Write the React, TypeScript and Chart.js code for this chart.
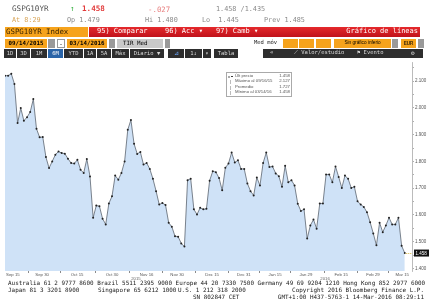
import React, { useEffect, useRef } from 'react';
import { Chart, registerables } from 'chart.js';
Chart.register(...registerables);

// ---- data (daily closes, 09/14/2015 -> 03/14/2016) ----
const values = [
  2.120, 2.120, 2.127, 2.089, 1.943, 1.999, 1.952, 1.965, 1.984, 2.033,
  1.922, 1.890, 1.891, 1.816, 1.775, 1.800, 1.825, 1.837, 1.831, 1.829,
  1.810, 1.794, 1.792, 1.806, 1.769, 1.757, 1.809, 1.744, 1.590, 1.635,
  1.633, 1.586, 1.565, 1.643, 1.670, 1.747, 1.732, 1.757, 1.800, 1.918,
  1.955, 1.866, 1.828, 1.835, 1.788, 1.794, 1.772, 1.735, 1.689, 1.639,
  1.645, 1.637, 1.571, 1.556, 1.521, 1.519, 1.494, 1.482, 1.730, 1.735,
  1.621, 1.602, 1.627, 1.621, 1.623, 1.728, 1.763, 1.760, 1.738, 1.692,
  1.776, 1.792, 1.833, 1.796, 1.804, 1.772, 1.772, 1.718, 1.689, 1.673,
  1.740, 1.710, 1.794, 1.833, 1.779, 1.781, 1.755, 1.745, 1.705, 1.784,
  1.722, 1.730, 1.710, 1.642, 1.615, 1.621, 1.512, 1.561, 1.583, 1.549,
  1.643, 1.643, 1.751, 1.751, 1.722, 1.781, 1.742, 1.701, 1.747, 1.735,
  1.701, 1.705, 1.651, 1.639, 1.630, 1.610, 1.573, 1.531, 1.487, 1.571,
  1.536, 1.561, 1.590, 1.565, 1.565, 1.590, 1.485, 1.458,
];
const xTickLabels = ['Sep 15', 'Sep 30', 'Oct 15', 'Oct 30', 'Nov 16', 'Nov 30', 'Dec 15', 'Dec 31', 'Jan 15', 'Jan 29', 'Feb 15', 'Feb 29', 'Mar 15'];
const xTickPos = [2.5, 11.8, 22.9, 34.0, 45.0, 54.7, 65.8, 75.9, 85.8, 95.6, 106.8, 116.9, 126.2];
const yearLabels = ['2015', '2016'];
const yearPos = [41.6, 101.7];
const yMin = 1.391;
const yMax = 2.171;
const legendLabels = ['Últ precio', 'Máximo al 09/16/15', 'Promedio', 'Mínimo al 03/14/16'];
const legendValues = ['1.458', '2.127', '1.727', '1.458'];

const mono = '"DejaVu Sans Mono", monospace';
const sans = '"Liberation Sans", Arial, sans-serif';

const extras = {
  id: 'bbgExtras',
  afterDraw(chart: any) {
    const { ctx, chartArea: ca, scales } = chart;
    const x = scales.x, y = scales.y;
    ctx.save();
    ctx.strokeStyle = '#8a8a8a';
    ctx.lineWidth = 1;
    for (let i = 0; i < xTickPos.length - 1; i++) {
      const px = Math.round(x.getPixelForValue((xTickPos[i] + xTickPos[i + 1]) / 2)) + 0.5;
      ctx.beginPath();
      ctx.moveTo(px, ca.bottom);
      ctx.lineTo(px, ca.bottom + 2);
      ctx.stroke();
    }
    ctx.fillStyle = '#666';
    ctx.font = '4.3px ' + sans;
    ctx.textAlign = 'center';
    ctx.textBaseline = 'middle';
    yearLabels.forEach((t, i) => ctx.fillText(t, x.getPixelForValue(yearPos[i]), ca.bottom + 8));
    const lv = values[values.length - 1];
    const ly = y.getPixelForValue(lv);
    const lx = x.getPixelForValue(values.length - 1);
    ctx.setLineDash([1, 1]);
    ctx.strokeStyle = '#d8b840';
    ctx.beginPath();
    ctx.moveTo(lx + 1, Math.round(ly) + 0.5);
    ctx.lineTo(ca.right, Math.round(ly) + 0.5);
    ctx.stroke();
    ctx.setLineDash([]);
    ctx.fillStyle = '#111';
    ctx.fillRect(ca.right + 2, ly - 3.5, 15, 7);
    ctx.fillStyle = '#fff';
    ctx.textAlign = 'left';
    ctx.font = '4.5px ' + sans;
    ctx.fillText(lv.toFixed(3), ca.right + 3.5, ly + 0.3);
    ctx.restore();
  },
};

function ChartCanvas() {
  const ref = useRef<HTMLCanvasElement | null>(null);
  useEffect(() => {
    const c = ref.current!;
    const chart = new Chart(c, {
      type: 'line',
      data: {
        datasets: [
          {
            data: values.map((v, i) => ({ x: i, y: v })),
            borderColor: '#5c6470',
            borderWidth: 0.8,
            backgroundColor: '#cfe2f7',
            fill: 'start',
            pointRadius: 1,
            pointBackgroundColor: '#222',
            pointBorderWidth: 0,
            tension: 0,
          },
        ],
      },
      options: {
        responsive: false,
        animation: false,
        events: [],
        layout: { padding: { top: 62, left: 5, right: 0, bottom: 26 } },
        plugins: { legend: { display: false }, tooltip: { enabled: false }, title: { display: false } },
        scales: {
          x: {
            type: 'linear',
            min: 0,
            max: values.length - 1 + 2.3,
            afterBuildTicks: (s: any) => {
              s.ticks = xTickPos.map((v) => ({ value: v }));
            },
            afterFit: (s: any) => {
              s.height = 9;
            },
            ticks: {
              autoSkip: false,
              maxRotation: 0,
              padding: 1,
              color: '#555',
              font: { size: 4.3, family: sans },
              callback: (_v: any, i: number) => xTickLabels[i],
            },
            grid: { display: false, drawTicks: false },
            border: { display: false },
          },
          y: {
            position: 'right',
            min: yMin,
            max: yMax,
            afterFit: (s: any) => {
              s.width = 20;
            },
            ticks: {
              stepSize: 0.05,
              includeBounds: false,
              padding: 1,
              color: '#555',
              font: { size: 4.5, family: sans },
              callback: (v: any) => {
                const r = Math.round(Number(v) * 100);
                return r % 10 === 0 ? Number(v).toFixed(3) : '';
              },
            },
            grid: { drawOnChartArea: false, tickLength: 2, color: '#999', lineWidth: 0.8 },
            border: { display: true, color: '#aaa', width: 0.8 },
          },
        },
      },
      plugins: [extras],
    } as any);
    return () => chart.destroy();
  }, []);
  return <canvas ref={ref} width={432} height={306} style={{ position: 'absolute', left: 0, top: 0, width: 432, height: 306 }} />;
}

type BoxProps = { x: number; y: number; w: number; h: number; bg?: string; color?: string; fs?: number; children?: any; align?: any; pl?: number; border?: string; bold?: boolean; font?: string };
const Box = ({ x, y, w, h, bg, color, fs, children, align, pl, border, bold, font }: BoxProps) => (
  <div
    style={{
      position: 'absolute', left: x, top: y, width: w, height: h, background: bg, color: color || '#000',
      fontSize: fs || 5.8, lineHeight: h + 'px', textAlign: align || 'center', paddingLeft: pl || 0,
      boxSizing: 'border-box', border, fontWeight: bold ? 'bold' : 'normal', fontFamily: font || mono,
      whiteSpace: 'pre', overflow: 'hidden',
    }}
  >
    {children}
  </div>
);

const T = ({ x, c, fs, color, children, bold, font, right }: any) => (
  <div
    style={{
      position: 'absolute', left: right === undefined ? x : undefined, right: right !== undefined ? 432 - right : undefined,
      top: c - fs * 0.6, fontSize: fs, lineHeight: fs + 'px', height: fs * 1.2,
      color, fontWeight: bold ? 'bold' : 'normal', fontFamily: font || mono, whiteSpace: 'pre',
    }}
  >
    {children}
  </div>
);

export default function App() {
  const orange = '#f6a31c';
  const dark = '#2e2e2e';
  const btn = '#d8d8d8';
  return (
    <div style={{ position: 'absolute', left: 0, top: 0, width: 432, height: 306, background: '#fff', overflow: 'hidden' }}>
      <ChartCanvas />
      {/* header row 1 */}
      <T x={12} c={10} fs={7.6} color="#505050">GSPG10YR</T>
      <T x={70} c={10} fs={7.6} color="#2fae3a">↑</T>
      <T x={82} c={10} fs={7.6} color="#e23b3b" bold>1.458</T>
      <T x={148} c={10} fs={7.4} color="#e88080">-.027</T>
      <T x={216} c={10} fs={6.8} color="#8a8a8a">1.458 /1.435</T>
      {/* header row 2 */}
      <T x={12} c={21} fs={6.8} color="#d9a65a">At 8:29</T>
      <T x={67} c={21} fs={6.8} color="#8a8a8a">Op 1.479</T>
      <T x={145} c={21} fs={6.8} color="#8a8a8a">Hi 1.480</T>
      <T x={202} c={21} fs={6.8} color="#8a8a8a">Lo  1.445</T>
      <T x={264} c={21} fs={6.8} color="#8a8a8a">Prev 1.485</T>
      {/* row 3 */}
      <Box x={5} y={27} w={83} h={10} bg={orange} color="#3a2400" fs={7.4} align="left" pl={1}>GSPG10YR Index</Box>
      <div style={{ position: 'absolute', left: 89, top: 27, width: 331, height: 10, background: 'linear-gradient(#e5292c,#c0121b)' }} />
      <T x={97} c={32} fs={7} color="#fff">95) Comparar</T>
      <T x={165} c={32} fs={7} color="#fff">96) Acc ▾</T>
      <T x={216} c={32} fs={7} color="#fff">97) Camb ▾</T>
      <T right={418} c={32} fs={7} color="#fff">Gráfico de líneas</T>
      {/* row 4 */}
      <Box x={5} y={39} w={42} h={8.5} bg={orange} bold>09/14/2015</Box>
      <Box x={48} y={39} w={7} h={8.5} bg="#9a9a9a" />
      <Box x={57} y={39} w={8} h={8.5} bg="#fff" border="1px solid #999">-</Box>
      <Box x={67} y={39} w={40} h={8.5} bg={orange} bold>03/14/2016</Box>
      <Box x={109} y={39} w={6} h={8.5} bg="#9a9a9a" />
      <Box x={117} y={39} w={46} h={8.5} bg="#c9c9c9" align="left" pl={6}>TIR Med</Box>
      <Box x={165} y={39} w={5} h={8.5} bg="#9a9a9a" />
      <T x={254} c={43.5} fs={5.5} color="#222">Med móv</T>
      <Box x={283} y={39} w={15} h={8.5} bg={orange} />
      <Box x={299} y={39} w={15} h={8.5} bg={orange} />
      <Box x={316} y={39} w={15} h={8.5} bg={orange} />
      <Box x={334} y={39} w={57} h={8.5} bg={orange} fs={4.7} font={sans}>Sin gráfico inferio</Box>
      <Box x={392} y={39} w={6} h={8.5} bg="#9a9a9a" />
      <Box x={401} y={39} w={15} h={8.5} bg={orange} fs={5.4}>EUR</Box>
      <Box x={418} y={39} w={6} h={8.5} bg="#9a9a9a" />
      {/* row 5 */}
      <Box x={4} y={49} w={12} h={8.5} bg={dark} color={btn} fs={5.5}>1D</Box>
      <Box x={17} y={49} w={13} h={8.5} bg={dark} color={btn} fs={5.5}>3D</Box>
      <Box x={31} y={49} w={16} h={8.5} bg={dark} color={btn} fs={5.5}>1M</Box>
      <Box x={48} y={49} w={15} h={8.5} bg="#2a64a8" color="#fff" fs={5.5}>6M</Box>
      <Box x={64} y={49} w={19} h={8.5} bg={dark} color={btn} fs={5.5}>YTD</Box>
      <Box x={84} y={49} w={12} h={8.5} bg={dark} color={btn} fs={5.5}>1A</Box>
      <Box x={97} y={49} w={14} h={8.5} bg={dark} color={btn} fs={5.5}>5A</Box>
      <Box x={112} y={49} w={17} h={8.5} bg={dark} color={btn} fs={5.5}>Máx</Box>
      <Box x={130} y={49} w={34} h={8.5} bg={dark} color={btn} fs={5.5}>Diario ▼</Box>
      <Box x={168} y={49} w={16} h={8.5} bg={dark} color="#6aa8ff" fs={6}>⊿</Box>
      <Box x={185} y={49} w={17} h={8.5} bg={dark} color={btn} fs={5.5}>1↓</Box>
      <Box x={203} y={49} w={8} h={8.5} bg={dark} color={btn} fs={5.5}>▾</Box>
      <Box x={214} y={49} w={24} h={8.5} bg={dark} color={btn} fs={5.5}>Tabla</Box>
      <div style={{ position: 'absolute', left: 263, top: 49, width: 160, height: 8.5, background: dark }} />
      <T x={270} c={53.3} fs={5.8} color={btn}>«</T>
      <T x={294} c={53.3} fs={5.5} color={btn}>⟋ Valor/estudio</T>
      <T x={357} c={53.3} fs={5.5} color={btn}>⚑ Evento</T>
      <T x={411} c={53.3} fs={6} color={btn}>⚙</T>
      {/* legend */}
      <div style={{ position: 'absolute', left: 226, top: 72, width: 66, height: 25, background: '#fff', border: '1px solid #aaa', boxSizing: 'border-box' }} />
      <div style={{ position: 'absolute', left: 228, top: 75.5, width: 2, height: 2, background: '#aaa' }} />
      <div style={{ position: 'absolute', left: 231.3, top: 75.5, width: 1.6, height: 1.6, borderRadius: 1, background: '#222' }} />
      {legendLabels.map((l, i) => (
        <React.Fragment key={i}>
          {i > 0 && <div style={{ position: 'absolute', left: 229.5, top: 76.5 + i * 5.5 - 2, width: 0.6, height: 4, background: '#bbb' }} />}
          <T x={235} c={76.5 + i * 5.5} fs={4.3} color="#555" font={sans}>{l}</T>
          <T right={290} c={76.5 + i * 5.5} fs={4.3} color="#555" font={sans}>{legendValues[i]}</T>
        </React.Fragment>
      ))}
      {/* footer */}
      <T x={8} c={283.5} fs={5.93} color="#1a1a1a">Australia 61 2 9777 8600 Brazil 5511 2395 9000 Europe 44 20 7330 7500 Germany 49 69 9204 1210 Hong Kong 852 2977 6000</T>
      <T x={8} c={290.5} fs={5.93} color="#1a1a1a">Japan 81 3 3201 8900</T>
      <T x={98} c={290.5} fs={5.93} color="#1a1a1a">Singapore 65 6212 1000</T>
      <T x={178} c={290.5} fs={5.93} color="#1a1a1a">U.S. 1 212 318 2000</T>
      <T right={424} c={290.5} fs={5.93} color="#1a1a1a">Copyright 2016 Bloomberg Finance L.P.</T>
      <T x={193} c={297.5} fs={5.93} color="#1a1a1a">SN 802847 CET</T>
      <T right={424} c={297.5} fs={5.93} color="#1a1a1a">GMT+1:00 H437-5763-1 14-Mar-2016 08:29:11</T>
    </div>
  );
}
